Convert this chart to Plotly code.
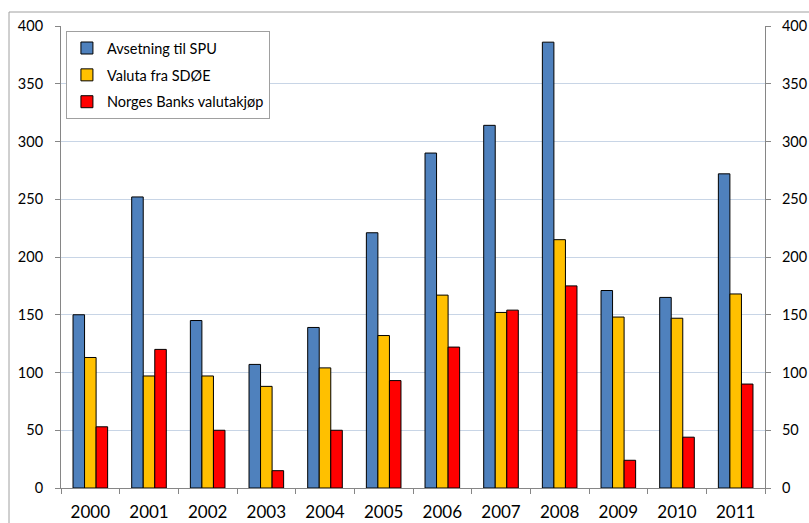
import plotly.graph_objects as go

years = ["2000", "2001", "2002", "2003", "2004", "2005", "2006", "2007", "2008", "2009", "2010", "2011"]
avsetning_spu = [150, 252, 145, 107, 139, 221, 290, 314, 386, 171, 165, 272]
valuta_sdoe = [113, 97, 97, 88, 104, 132, 167, 152, 215, 148, 147, 168]
norges_bank = [53, 120, 50, 15, 50, 93, 122, 154, 175, 24, 44, 90]
y_ticks = [0, 50, 100, 150, 200, 250, 300, 350, 400]

series = [
    ("Avsetning til SPU", avsetning_spu, "#4F81BD"),
    ("Valuta fra SDØE", valuta_sdoe, "#FFC000"),
    ("Norges Banks valutakjøp", norges_bank, "#FF0000"),
]

fig = go.Figure()
for i, (name, vals, col) in enumerate(series):
    fig.add_trace(go.Bar(
        x=years, y=vals, name=name,
        marker=dict(color=col, line=dict(color="#000000", width=1)),
        legendgroup=f"g{i}",
    ))

# invisible trace to show the right axis
fig.add_trace(go.Scatter(x=[years[0]], y=[0], yaxis="y2", mode="markers",
                         marker=dict(opacity=0, size=1), showlegend=False, hoverinfo="skip"))

font = "Lato, 'Open Sans', sans-serif"
fig.update_layout(
    width=809, height=523,
    margin=dict(l=61, r=44, t=26, b=34.5, pad=0, autoexpand=False),
    paper_bgcolor="white", plot_bgcolor="white",
    barmode="group", bargap=0.41, bargroupgap=0,
    font=dict(family=font, color="#000000"),
    showlegend=True,
    legend=dict(
        x=0.007, y=0.989, xanchor="left", yanchor="top",
        bgcolor="white", bordercolor="#A0A0A0", borderwidth=1,
        font=dict(size=14.5, family=font), tracegroupgap=5,
        traceorder="grouped", itemwidth=30,
    ),
    xaxis=dict(
        type="category", range=[-0.5, len(years) - 0.5],
        showline=True, linecolor="#868686", linewidth=1,
        ticks="outside", tickson="boundaries", ticklen=5, tickcolor="#868686",
        tickfont=dict(size=17), showgrid=False, ticklabelstandoff=9,
        automargin=False,
    ),
    yaxis=dict(
        range=[0, 400], tickvals=y_ticks, showline=True, linecolor="#868686",
        linewidth=1, ticks="outside", ticklen=5, tickcolor="#868686",
        gridcolor="#C8D5E6", gridwidth=1, tickfont=dict(size=14.5),
        zeroline=False, ticklabelstandoff=9, automargin=False,
    ),
    yaxis2=dict(
        range=[0, 400], tickvals=y_ticks, overlaying="y", side="right",
        showline=True, linecolor="#868686", linewidth=1, ticks="outside",
        ticklen=5, tickcolor="#868686", showgrid=False, tickfont=dict(size=14.5),
        zeroline=False, ticklabelstandoff=8, automargin=False,
    ),
    shapes=[dict(type="rect", xref="paper", yref="paper",
                 x0=(9 - 61) / 704, x1=1.2, y0=-0.3, y1=1 + 14 / 462.5,
                 line=dict(color="#A0A0A0", width=1), layer="below")],
)

fig.write_html(
    "out.html",
    config={"displayModeBar": False},
    post_script="document.body.style.margin='0';document.body.style.padding='0';document.body.style.overflow='hidden';",
)
